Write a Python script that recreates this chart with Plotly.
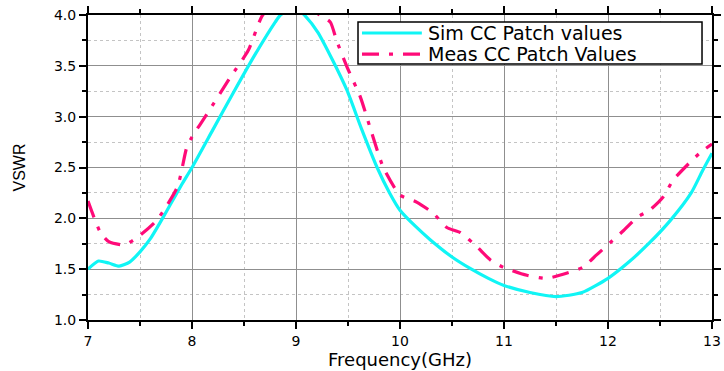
import plotly.graph_objects as go

sim_x = [7.0, 7.1, 7.2, 7.3, 7.4, 7.5, 7.6, 7.7, 7.8, 7.9, 8.0, 8.2, 8.4, 8.6, 8.8, 8.85, 8.95, 9.0, 9.08,
         9.21, 9.35, 9.49, 9.63, 9.78, 9.9, 10.0, 10.15, 10.29, 10.5, 10.67, 10.85, 11.0, 11.25, 11.5,
         11.75, 12.0, 12.2, 12.4, 12.6, 12.8, 12.91, 13.0]
sim_y = [1.50, 1.58, 1.56, 1.53, 1.57, 1.67, 1.80, 1.97, 2.15, 2.33, 2.50, 2.87, 3.24, 3.60, 3.93, 4.00, 4.06, 4.07, 4.00,
         3.83, 3.56, 3.26, 2.88, 2.50, 2.25, 2.08, 1.92, 1.79, 1.62, 1.51, 1.41, 1.34, 1.27, 1.23,
         1.27, 1.41, 1.57, 1.76, 1.98, 2.25, 2.47, 2.64]

meas_x = [7.0, 7.12, 7.2, 7.35, 7.47, 7.66, 7.86, 7.95, 8.0, 8.14, 8.37, 8.54, 8.68, 8.8, 9.0, 9.23, 9.33,
          9.39, 9.49, 9.62, 9.71, 9.84, 10.0, 10.16, 10.32, 10.45, 10.58, 10.74, 10.87, 10.99, 11.22,
          11.41, 11.6, 11.76, 11.89, 12.02, 12.15, 12.28, 12.4, 12.53, 12.63, 12.88, 13.0]
meas_y = [2.17, 1.86, 1.77, 1.74, 1.81, 1.98, 2.31, 2.70, 2.80, 3.02, 3.39, 3.65, 4.00, 4.10, 4.12, 4.00, 3.93,
          3.75, 3.49, 3.19, 2.90, 2.50, 2.23, 2.16, 2.05, 1.91, 1.86, 1.72, 1.59, 1.52, 1.44,
          1.41, 1.46, 1.52, 1.64, 1.76, 1.88, 2.01, 2.08, 2.21, 2.38, 2.64, 2.73]

series_names = ["Sim CC Patch values", "Meas CC Patch Values"]
x_ticks = [7, 8, 9, 10, 11, 12, 13]
y_ticks = [1.0, 1.5, 2.0, 2.5, 3.0, 3.5, 4.0]

FONT = "DejaVu Sans, Liberation Sans, Arial"
SIM_COLOR = "#10F5F5"
MEAS_COLOR = "#FF0A78"
MEAS_DASH = "17px,10px,4px,10px"

fig = go.Figure()
fig.add_trace(go.Scatter(x=sim_x, y=sim_y, mode="lines", name=series_names[0], showlegend=False,
                         line=dict(color=SIM_COLOR, width=3.2, shape="spline", smoothing=0.6)))
fig.add_trace(go.Scatter(x=meas_x, y=meas_y, mode="lines", name=series_names[1], showlegend=False,
                         line=dict(color=MEAS_COLOR, width=3.2, dash=MEAS_DASH,
                                   shape="spline", smoothing=0.6)))

axis_common = dict(showline=True, linecolor="black", linewidth=2, mirror="ticks",
                   ticks="outside", ticklen=7, tickwidth=1.5, tickcolor="black",
                   showgrid=True, gridcolor="#8f8f8f", gridwidth=1, zeroline=False, automargin=False,
                   tickfont=dict(family=FONT, size=14, color="black"))

fig.update_xaxes(range=[7, 13], tickvals=x_ticks, ticktext=[str(v) for v in x_ticks],
                 minor=dict(dtick=0.5, tick0=7, showgrid=True, gridcolor="#c4c4c4", griddash="dot",
                            ticks="outside", ticklen=4, tickcolor="black"),
                 title=dict(text="Frequency(GHz)", font=dict(family=FONT, size=18, color="black"),
                            standoff=0),
                 **axis_common)
fig.update_yaxes(range=[1.0, 4.0], tickvals=y_ticks, ticktext=[f"{v:.1f}" for v in y_ticks],
                 minor=dict(dtick=0.25, tick0=1.0, showgrid=True, gridcolor="#c4c4c4", griddash="dot",
                            ticks="outside", ticklen=4, tickcolor="black"),
                 title=dict(text="VSWR", font=dict(family="Liberation Sans, Arial", size=16, color="black"),
                            standoff=24),
                 **axis_common)

# Custom legend box (paper coordinates relative to plot area)
box_x0, box_x1, box_y0, box_y1 = 0.4327, 0.984, 0.839, 0.977
row_y = [0.941, 0.872]
sample_x0, sample_x1, text_x = 0.4391, 0.535, 0.543
fig.add_shape(type="rect", xref="paper", yref="paper", x0=box_x0, x1=box_x1, y0=box_y0, y1=box_y1,
              line=dict(color="black", width=1.5), fillcolor="white", layer="above")
legend_styles = [dict(color=SIM_COLOR, width=3.2), dict(color=MEAS_COLOR, width=3.2, dash=MEAS_DASH)]
for name, yy, st in zip(series_names, row_y, legend_styles):
    fig.add_shape(type="line", xref="paper", yref="paper", x0=sample_x0, x1=sample_x1, y0=yy, y1=yy,
                  line=st, layer="above")
    fig.add_annotation(xref="paper", yref="paper", x=text_x, y=yy, text=name, showarrow=False,
                       xanchor="left", yanchor="middle", borderpad=0,
                       font=dict(family=FONT, size=19, color="black"))

fig.update_layout(
    width=724, height=371,
    margin=dict(l=88, r=12, t=15, b=51),
    paper_bgcolor="white", plot_bgcolor="white",
    showlegend=False,
)

fig.write_html("out.html")
